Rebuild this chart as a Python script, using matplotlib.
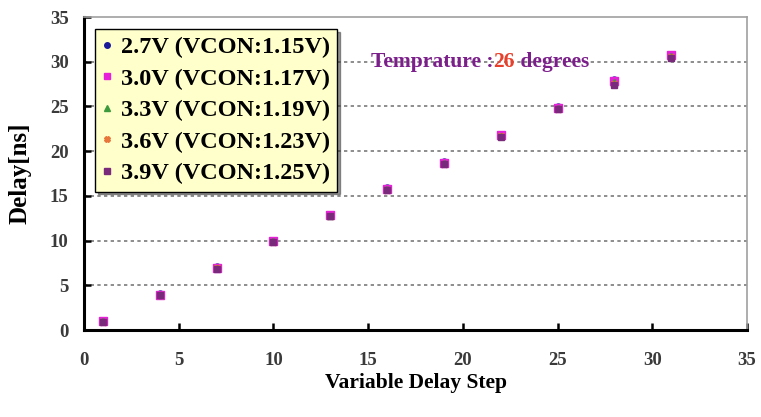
import matplotlib
matplotlib.use("Agg")
import matplotlib.pyplot as plt
from matplotlib.lines import Line2D

plt.rcParams['font.family'] = ['Liberation Serif', 'DejaVu Serif']

steps = [1, 4, 7, 10, 13, 16, 19, 22, 25, 28, 31]
delay_27 = [1.0, 4.0, 7.0, 10.0, 12.9, 15.9, 18.8, 21.8, 24.9, 28.0, 30.8]
delay_30 = [1.0, 3.9, 6.9, 9.9, 12.9, 15.8, 18.7, 21.8, 24.8, 27.8, 30.7]
delay_33 = [1.0, 3.9, 6.9, 9.9, 12.8, 15.8, 18.7, 21.7, 24.8, 27.7, 30.6]
delay_36 = [0.9, 3.9, 6.9, 9.8, 12.8, 15.7, 18.6, 21.7, 24.7, 27.5, 30.5]
delay_39 = [0.9, 3.9, 6.8, 9.8, 12.8, 15.7, 18.6, 21.6, 24.7, 27.4, 30.4]

labels = ["2.7V (VCON:1.15V)", "3.0V (VCON:1.17V)", "3.3V (VCON:1.19V)",
          "3.6V (VCON:1.23V)", "3.9V (VCON:1.25V)"]
colors = ["#1a1a9a", "#e620d8", "#3c9a3c", "#e8753a", "#7a2a7a"]
markers = ["o", "s", "^", "X", "s"]
sizes = [5, 6, 5, 5, 5]
series = [delay_27, delay_30, delay_33, delay_36, delay_39]

xticks = [0, 5, 10, 15, 20, 25, 30, 35]
yticks = [0, 5, 10, 15, 20, 25, 30, 35]

fig = plt.figure(figsize=(7.61, 4.17), dpi=100)
ax = fig.add_axes([0.1104, 0.2086, 0.8712, 0.7506])

for vals, c, m, s in zip(series, colors, markers, sizes):
    ax.plot(steps, vals, linestyle="none", marker=m, color=c,
            markersize=s, markeredgecolor=c, zorder=3)

ax.set_xlim(0, 35)
ax.set_ylim(0, 35)
ax.set_xticks(xticks)
ax.set_yticks(yticks)
ax.tick_params(direction="in", length=5, width=1.8, colors="black",
               labelcolor="#3a3a3a", labelsize=13.5)
ax.tick_params(axis="x", pad=16)
ax.tick_params(axis="y", pad=11)
for t in ax.get_xticklabels() + ax.get_yticklabels():
    t.set_fontweight("bold")

for y in yticks[1:-1]:
    ax.axhline(y, color="#7a7a7a", linewidth=1.2, linestyle=(0, (2, 2)), zorder=1)

for side in ("left", "bottom"):
    ax.spines[side].set_linewidth(2.2)
    ax.spines[side].set_color("black")
for side in ("top", "right"):
    ax.spines[side].set_linewidth(1.2)
    ax.spines[side].set_color("#a0a0a0")

ax.set_xlabel("Variable Delay Step", fontsize=15.5, fontweight="bold", labelpad=3)
ax.set_ylabel("Delay[ns]", fontsize=18, fontweight="bold", labelpad=13)

handles = [Line2D([], [], linestyle="none", marker=m, color=c, markersize=4,
                  markeredgecolor=c) for c, m in zip(colors, markers)]
leg = ax.legend(handles, labels, loc="upper left",
                bbox_to_anchor=(95 / 761, 1 - 29 / 417),
                bbox_transform=fig.transFigure,
                prop={"weight": "bold", "size": 17.5}, frameon=True,
                fancybox=False, shadow={"color": "#333333"},
                handlelength=0.4, handletextpad=0.35, borderpad=0.3,
                labelspacing=0.39, borderaxespad=0)
leg.get_frame().set_facecolor("#ffffcc")
leg.get_frame().set_edgecolor("black")
leg.get_frame().set_linewidth(1.0)
leg.set_zorder(5)

# Temperature note: coloured pieces placed one after another
fig.canvas.draw()
renderer = fig.canvas.get_renderer()
pieces = [("Temprature :", "#7b1f8a"), ("26", "#e8402a"), (" degrees", "#7b1f8a")]
x0 = 371
for txt, col in pieces:
    t = fig.text(x0 / 761, 1 - 62 / 417, txt, color=col, fontsize=15.5,
                 fontweight="bold", va="center", ha="left", zorder=0)
    bb = t.get_window_extent(renderer)
    x0 = bb.x1

fig.savefig("out.png", dpi=100)
